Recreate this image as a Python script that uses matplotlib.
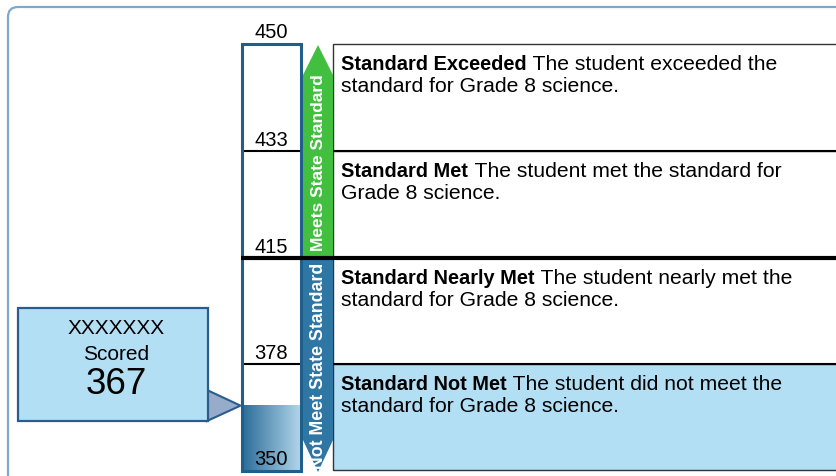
"""
Score report graphic: student scale score against Grade 8 science achievement levels.

Output:
    out.png
"""

import numpy as np

import matplotlib
matplotlib.use("Agg")
import matplotlib.pyplot as plt
from matplotlib.patches import Rectangle, Polygon, FancyBboxPatch
from matplotlib.colors import LinearSegmentedColormap

plt.rcParams["font.family"] = ["Liberation Sans", "DejaVu Sans"]

# Data
cut_scores = [450, 433, 415, 378, 350]
student_name = "XXXXXXX"
student_score = 367
level_titles = [
    "Standard Exceeded",
    "Standard Met",
    "Standard Nearly Met",
    "Standard Not Met",
]
level_first_lines = [
    " The student exceeded the",
    " The student met the standard for",
    " The student nearly met the",
    " The student did not meet the",
]
level_second_lines = [
    "standard for Grade 8 science.",
    "Grade 8 science.",
    "standard for Grade 8 science.",
    "standard for Grade 8 science.",
]
meets_label = "Meets State Standard"
not_meets_label = "Not Meet State Standard"

# Layout (pixel space, y grows downward)
band_edges_px = [44, 151, 258, 364, 470]
bar_left, bar_right = 241.5, 300.5
col_left, col_right = 303, 333
panel_left = 333

DARK_BLUE = "#1f5f8c"
COL_BLUE = "#2e76a3"
GREEN = "#43bf40"
LIGHT_BLUE = "#b3dff5"


def score_to_y(score):
    # each achievement band gets the same height, linear inside a band
    return np.interp(score, cut_scores[::-1], band_edges_px[::-1])


fig = plt.figure(figsize=(8.36, 4.76), dpi=100)
ax = fig.add_axes([0, 0, 1, 1])
ax.set_xlim(0, 836)
ax.set_ylim(476, 0)
ax.axis("off")

# outer rounded frame
ax.add_patch(FancyBboxPatch((8, 7), 1000, 600,
                            boxstyle="round,pad=0,rounding_size=10",
                            facecolor="white", edgecolor="#7ea9c8", lw=1.6, zorder=0))

# description panels
for i, title in enumerate(level_titles):
    y0 = score_to_y(cut_scores[i])
    y1 = score_to_y(cut_scores[i + 1])
    face = LIGHT_BLUE if i == len(level_titles) - 1 else "white"
    ax.add_patch(Rectangle((panel_left, y0), 600, y1 - y0,
                           facecolor=face, edgecolor="#333333", lw=1.0, zorder=1))
    t = ax.text(341, y0 + 26, title, fontsize=14.4, fontweight="bold",
                va="baseline", ha="left", zorder=5)
    ax.annotate(level_first_lines[i], xy=(1, 0), xycoords=t, xytext=(0.6, 0),
                textcoords="offset points", fontsize=15.2,
                va="bottom", ha="left", zorder=5)
    ax.text(341, y0 + 48, level_second_lines[i], fontsize=15.2,
            va="baseline", ha="left", zorder=5)

# student score fill inside the bar (gradient)
y_score = score_to_y(student_score)
grad_cmap = LinearSegmentedColormap.from_list("g", ["#2a6c98", "#b2d6eb"])
grad = np.linspace(0, 1, 200).reshape(1, -1)
ax.imshow(grad, cmap=grad_cmap, aspect="auto",
          extent=(bar_left, bar_right, score_to_y(cut_scores[-1]), y_score), zorder=2)

# band divider lines
for s in cut_scores[1:-1]:
    y = score_to_y(s)
    lw = 3.0 if s == 415 else 1.5
    ax.plot([bar_left - 1, 840], [y, y], color="black", lw=lw,
            solid_capstyle="butt", zorder=6 if s == 415 else 3)

# score bar outline
ax.add_patch(Rectangle((bar_left, score_to_y(cut_scores[0])), bar_right - bar_left,
                       score_to_y(cut_scores[-1]) - score_to_y(cut_scores[0]) + 1,
                       facecolor="none", edgecolor=DARK_BLUE, lw=2.2, zorder=4))

# cut score labels
for s in cut_scores:
    y = score_to_y(s)
    if s == cut_scores[0]:
        y = y - 1
    ax.text((bar_left + bar_right) / 2, y - 5, str(s), fontsize=14.5,
            ha="center", va="baseline", zorder=5)

# meets standard arrow (up)
y_top = score_to_y(cut_scores[0])
y_mid = score_to_y(415)
ax.add_patch(Rectangle((col_left, y_top + 31), col_right - col_left, y_mid - y_top - 31,
                       facecolor=GREEN, edgecolor="none", zorder=4))
ax.add_patch(Polygon([(col_left, y_top + 31), ((col_left + col_right) / 2, y_top + 1),
                      (col_right, y_top + 31)], closed=True,
                     facecolor=GREEN, edgecolor="none", zorder=4))
ax.text((col_left + col_right) / 2 + 0.5, 163, meets_label, rotation=90, color="white",
        fontsize=12.5, fontweight="bold", ha="center", va="center", zorder=7)

# does not meet arrow (down)
y_bot = score_to_y(cut_scores[-1])
ax.add_patch(Rectangle((col_left, y_mid + 2), col_right - col_left, 440 - y_mid - 2,
                       facecolor=COL_BLUE, edgecolor="none", zorder=4))
ax.add_patch(Polygon([(col_left, 440), ((col_left + col_right) / 2, y_bot + 2),
                      (col_right, 440)], closed=True,
                     facecolor=COL_BLUE, edgecolor="none", zorder=4))
ax.text((col_left + col_right) / 2 + 0.5, 366, not_meets_label, rotation=90, color="white",
        fontsize=12.8, fontweight="bold", ha="center", va="center", zorder=7)

# callout box with student score
ax.add_patch(Polygon([(207, 390), (bar_left - 1, y_score), (207, 421)], closed=True,
                     facecolor="#97abcb", edgecolor="#2b5d8c", lw=1.5, zorder=4))
ax.add_patch(Rectangle((18, 308), 190, 113, facecolor=LIGHT_BLUE,
                       edgecolor="#2b5d8c", lw=1.6, zorder=5))
ax.text(116, 334, student_name, fontsize=15, ha="center", va="baseline", zorder=6)
ax.text(116, 360, "Scored", fontsize=15, ha="center", va="baseline", zorder=6)
ax.text(116, 394, str(student_score), fontsize=26.5, ha="center", va="baseline", zorder=6)

fig.savefig("out.png", dpi=100)
